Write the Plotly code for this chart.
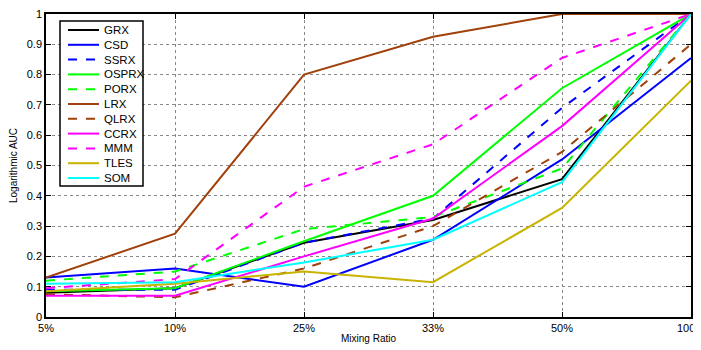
import plotly.graph_objects as go

ratios = ["5%", "10%", "25%", "33%", "50%", "100%"]
y_ticks = [0, 0.1, 0.2, 0.3, 0.4, 0.5, 0.6, 0.7, 0.8, 0.9, 1]
y_tick_text = ["0", "0.1", "0.2", "0.3", "0.4", "0.5", "0.6", "0.7", "0.8", "0.9", "1"]

grx = [0.08, 0.095, 0.245, 0.32, 0.455, 1.0]
csd = [0.13, 0.16, 0.10, 0.255, 0.52, 0.855]
ssrx = [0.09, 0.09, 0.245, 0.325, 0.69, 1.0]
osprx = [0.085, 0.095, 0.25, 0.40, 0.755, 1.0]
porx = [0.12, 0.15, 0.29, 0.33, 0.49, 1.0]
lrx = [0.13, 0.275, 0.80, 0.925, 1.0, 1.0]
qlrx = [0.075, 0.065, 0.16, 0.30, 0.545, 0.90]
ccrx = [0.07, 0.07, 0.20, 0.325, 0.63, 1.0]
mmm = [0.095, 0.125, 0.43, 0.57, 0.855, 1.0]
tles = [0.085, 0.11, 0.15, 0.115, 0.36, 0.78]
som = [0.11, 0.115, 0.18, 0.255, 0.445, 1.0]

series = [
    ("GRX", grx, "#000000", "solid"),
    ("CSD", csd, "#0000FF", "solid"),
    ("SSRX", ssrx, "#0000FF", "dash"),
    ("OSPRX", osprx, "#00FF00", "solid"),
    ("PORX", porx, "#00FF00", "dash"),
    ("LRX", lrx, "#A0400A", "solid"),
    ("QLRX", qlrx, "#A0400A", "dash"),
    ("CCRX", ccrx, "#FF00FF", "solid"),
    ("MMM", mmm, "#FF00FF", "dash"),
    ("TLES", tles, "#C8B400", "solid"),
    ("SOM", som, "#00FFFF", "solid"),
]

# The page body has an 8px default margin, so the figure is sized/positioned to compensate.
W, H = 701, 350
ML, MR, MT, MB = 38, 18, 6, 41
OFF = 8  # page offset of the figure
PW, PH = W - ML - MR, H - MT - MB


def px(x):  # page pixel x -> plot-area fraction
    return (x - OFF - ML) / PW


def py(y):  # page pixel y -> plot-area fraction
    return (H - MB - (y - OFF)) / PH


fig = go.Figure()
for name, vals, color, dash in series:
    fig.add_trace(go.Scatter(
        x=ratios, y=vals, name=name, mode="lines",
        line=dict(color=color, width=2, dash=dash),
    ))

# Compact legend box (shapes + text annotations, in plot-area coordinates)
shapes = [dict(type="rect", xref="x domain", yref="y domain",
               x0=px(60), x1=px(143), y0=py(186), y1=py(21),
               line=dict(color="black", width=1.5), fillcolor="white", layer="above")]
annotations = []
for i, (name, vals, color, dash) in enumerate(series):
    yy = 30 + 14.8 * i
    shapes.append(dict(type="line", xref="x domain", yref="y domain",
                       x0=px(68), x1=px(99), y0=py(yy), y1=py(yy),
                       line=dict(color=color, width=2, dash=dash), layer="above"))
    annotations.append(dict(xref="x domain", yref="y domain", x=px(102), y=py(yy),
                            text=name, showarrow=False, xanchor="left", yanchor="middle",
                            font=dict(size=11.5, color="black")))

font_family = "Liberation Sans, Arial, sans-serif"
fig.update_layout(
    width=W, height=H,
    margin=dict(l=ML, r=MR, t=MT, b=MB),
    paper_bgcolor="white", plot_bgcolor="white",
    font=dict(family=font_family, size=11, color="black"),
    showlegend=False,
    shapes=shapes,
    annotations=annotations,
    xaxis=dict(
        type="category", range=[0, 5], automargin=False, ticklabeloverflow="allow",
        showline=True, linecolor="black", linewidth=1.5, mirror="ticks",
        ticks="inside", ticklen=5, tickcolor="black",
        showgrid=True, gridcolor="#888888", griddash="dot", gridwidth=1,
        zeroline=False,
        title=dict(text="Mixing Ratio", font=dict(size=10), standoff=2),
        tickfont=dict(size=11),
    ),
    yaxis=dict(
        range=[0, 1], tickvals=y_ticks, ticktext=y_tick_text, automargin=False,
        ticklabeloverflow="allow",
        showline=True, linecolor="black", linewidth=1.5, mirror="ticks",
        ticks="inside", ticklen=5, tickcolor="black",
        showgrid=True, gridcolor="#888888", griddash="dot", gridwidth=1,
        zeroline=False,
        title=dict(text="Logarithmic AUC", font=dict(size=10), standoff=9),
        tickfont=dict(size=11),
    ),
)

fig.write_html("out.html")
